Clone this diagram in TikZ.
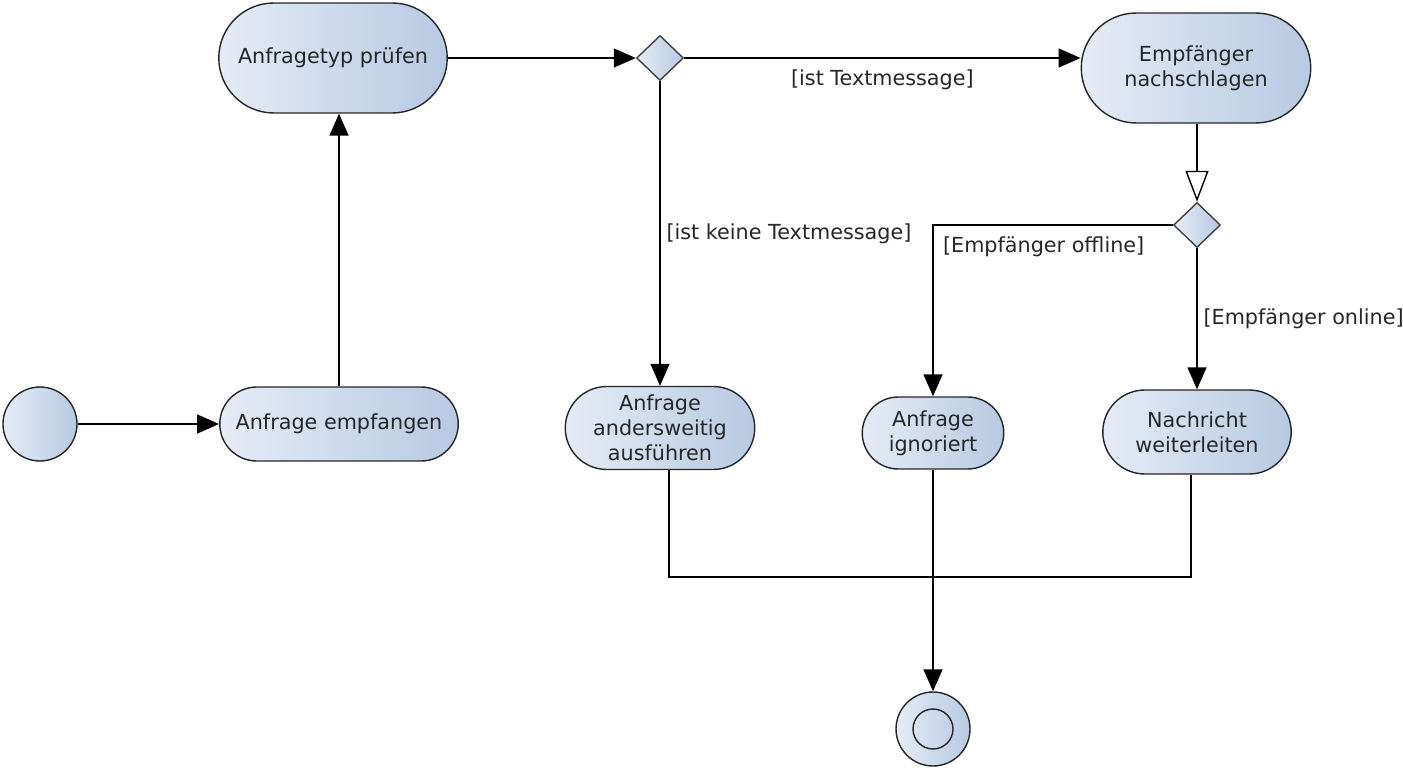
\documentclass[tikz,border=0pt]{standalone}
\usepackage{fontspec}
\setmainfont{DejaVu Sans}
\usetikzlibrary{shapes.misc,shapes.geometric,arrows.meta,positioning}
\definecolor{actlight}{HTML}{E6ECF6}
\definecolor{actdark}{HTML}{B7C9E2}
\tikzset{
  action/.style={rounded rectangle, draw=black!85, line width=.8pt,
    left color=actlight, right color=actdark, align=center, inner sep=1pt,
    text=black!85, font=\fontsize{11.8}{14.2}\selectfont},
  decision/.style={diamond, draw=black!75, line width=.8pt, left color=actlight,
    right color=actdark, minimum width=.94cm, minimum height=.9cm, inner sep=0pt},
  dot/.style={circle, draw=black!85, line width=.8pt, left color=actlight,
    right color=actdark, minimum size=1.48cm, inner sep=0pt},
  flow/.style={line width=.8pt, -{Triangle[length=.44cm,width=.38cm]}},
  openflow/.style={line width=.8pt, -{Triangle[open,length=.62cm,width=.46cm]}},
  guard/.style={text=black!85, font=\fontsize{11.8}{14}\selectfont}
}
\begin{document}
\begin{tikzpicture}[x=.02cm, y=-.02cm]
\useasboundingbox (0,0) rectangle (1403,770);
\node[dot] (start) at (40,424) {};
\node[action, minimum width=4.84cm, minimum height=1.48cm] (empf) at (339,424) {Anfrage empfangen};
\node[action, minimum width=4.64cm, minimum height=2.2cm] (typ) at (333,58) {Anfragetyp prüfen};
\node[decision] (d1) at (660,58) {};
\node[action, minimum width=4.66cm, minimum height=2.2cm] (nach) at (1196,68) {Empfänger\\nachschlagen};
\node[decision] (d2) at (1197,225) {};
\node[action, minimum width=3.86cm, minimum height=1.66cm] (anders) at (660,428) {Anfrage\\andersweitig\\ausführen};
\node[action, minimum width=2.9cm, minimum height=1.44cm] (ign) at (933,433) {Anfrage\\ignoriert};
\node[action, minimum width=3.84cm, minimum height=1.68cm] (weiter) at (1197,432) {Nachricht\\weiterleiten};
\node[dot] (final) at (933,729) {};
\draw[line width=.8pt, black!85] (final.center) circle[radius=.4cm];
\coordinate (jl) at (669,577);
\coordinate (jr) at (1191,577);

\draw[flow] (start) -- (empf);
\draw[flow] (empf.north) -- (empf.north |- typ.south);
\draw[flow] (typ.east) -- (d1.west);
\draw[flow] (d1.east) -- node[guard, below=3pt]{[ist Textmessage]} (d1.east -| nach.west);
\draw[flow] (d1.south) -- node[guard, right=0pt]{[ist keine Textmessage]} (anders.north);
\draw[openflow] (nach.south -| d2.north) -- (d2.north);
\draw[flow] (d2.west) -| node[guard, pos=.5, below right=3pt and 2pt]{[Empfänger offline]} (ign.north);
\draw[flow] (d2.south) -- node[guard, right=0pt]{[Empfänger online]} (weiter.north);
\draw[line width=.8pt] (anders.south -| jl) -- (jl) -- (jr) -- (weiter.south -| jr);
\draw[flow] (ign.south) -- (final.north);
\end{tikzpicture}
\end{document}
